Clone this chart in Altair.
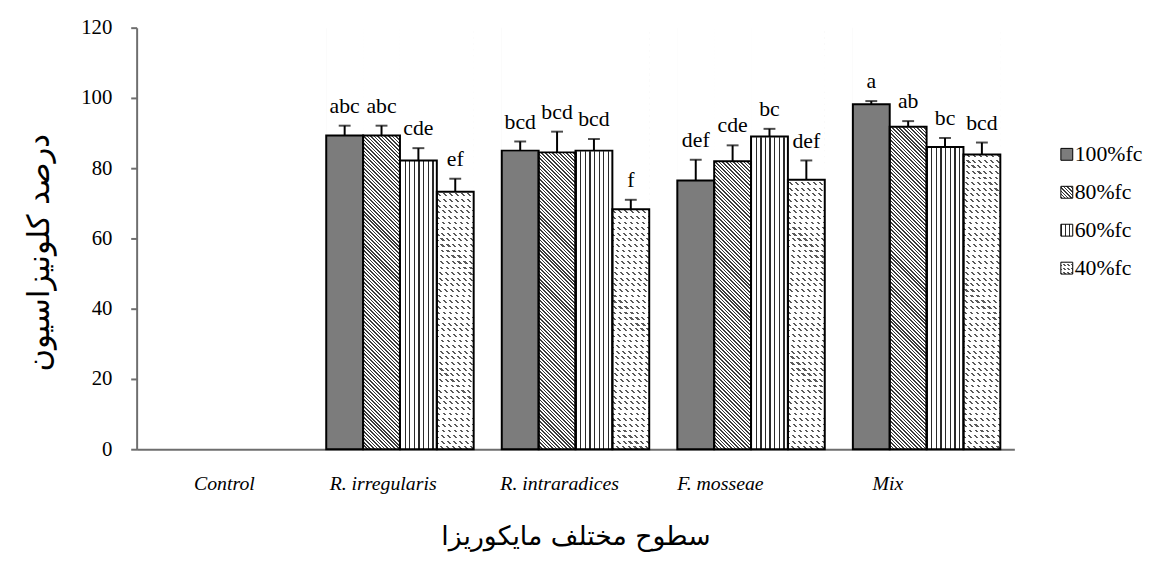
import altair as alt
import pandas as pd

categories = ["Control", "R. irregularis", "R. intraradices", "F. mosseae", "Mix"]
series = ["100%fc", "80%fc", "60%fc", "40%fc"]

v100 = [0, 89.3, 85.0, 76.5, 98.2]
v80 = [0, 89.3, 84.5, 82.0, 91.8]
v60 = [0, 82.2, 85.0, 89.0, 86.0]
v40 = [0, 73.3, 68.3, 76.7, 83.9]

e100 = [0, 2.8, 2.6, 5.9, 0.9]
e80 = [0, 2.8, 5.9, 4.5, 1.6]
e60 = [0, 3.5, 3.3, 2.2, 2.6]
e40 = [0, 3.7, 2.7, 5.5, 3.4]

l100 = ["", "abc", "bcd", "def", "a"]
l80 = ["", "abc", "bcd", "cde", "ab"]
l60 = ["", "cde", "bcd", "bc", "bc"]
l40 = ["", "ef", "f", "def", "bcd"]

y_ticks = [0, 20, 40, 60, 80, 100, 120]
x_title = "سطوح مختلف مایکوریزا"
y_title = "درصد کلونیزاسیون"

rows = []
for s, vals, errs, labs in zip(series, [v100, v80, v60, v40], [e100, e80, e60, e40], [l100, l80, l60, l40]):
    for c, v, e, l in zip(categories, vals, errs, labs):
        rows.append({"cat": c, "series": s, "value": v, "err": e, "letter": l})
df = pd.DataFrame(rows)

W, H = 887, 426
YMAX = 120
P_IN, P_OUT = 0.16, 0.08
step = W / (len(categories) - P_IN + 2 * P_OUT)
BW = step * (1 - P_IN) / len(series)

SERIF = "Times New Roman, Liberation Serif, serif"
ARAB = "DejaVu Sans"
AXC = "#6e6e6e"


def stripes(n, frac, dark, light):
    st = []
    for i in range(n):
        o0 = i / n
        o1 = (i + frac) / n
        o2 = (i + 1) / n
        st += [
            alt.GradientStop(offset=o0, color=dark),
            alt.GradientStop(offset=o1, color=dark),
            alt.GradientStop(offset=o1, color=light),
            alt.GradientStop(offset=o2, color=light),
        ]
    return st


def diag(w, h, period, frac, dark, light):
    a = (w + h) * w / (w * w + h * h)
    n = max(1, int(round((w + h) / period)))
    return alt.LinearGradient(gradient="linear", x1=0, y1=1, x2=a, y2=1 - a * h / w,
                              stops=stripes(n, frac, dark, light))


def vert(w, period, frac, dark, light):
    n = max(1, int(round(w / period)))
    return alt.LinearGradient(gradient="linear", x1=0, y1=0, x2=1, y2=0,
                              stops=stripes(n, frac, dark, light))


def rowsgrad(h, period, frac, c1, c2):
    n = max(1, int(round(h / period)))
    return alt.LinearGradient(gradient="linear", x1=0, y1=0, x2=0, y2=1,
                              stops=stripes(n, frac, c1, c2))


def fills(w, h):
    return {
        "100%fc": ["#7c7c7c"],
        "80%fc": [diag(w, h, 3.6, 0.45, "#3c3c3c", "#ffffff")],
        "60%fc": [vert(w, 4.6, 0.28, "#2a2a2a", "#ffffff")],
        "40%fc": [diag(w, h, 6.0, 0.35, "#5a5a5a", "#ffffff"),
                  rowsgrad(h, 5.7, 0.5, "rgba(255,255,255,1)", "rgba(255,255,255,0)")],
    }


bar_fills = fills(BW, H)

x_enc = alt.X(
    "cat:N",
    sort=categories,
    scale=alt.Scale(domain=categories, paddingInner=P_IN, paddingOuter=P_OUT),
    axis=alt.Axis(
        title=x_title, labelAngle=0, ticks=False,
        labelFont=SERIF, labelFontStyle="italic", labelFontSize=20, labelColor="black",
        labelPadding=25,
        labelOffset={
            "condition": [
                {"test": "datum.value == 'R. irregularis'", "value": -17},
                {"test": "datum.value == 'R. intraradices'", "value": -16},
                {"test": "datum.value == 'F. mosseae'", "value": -31},
                {"test": "datum.value == 'Mix'", "value": -39},
            ],
            "value": 0,
        },
        domainColor=AXC, domainWidth=2,
        titleFont=ARAB, titleFontSize=27, titleFontWeight="normal", titleColor="black",
        titlePadding=30,
    ),
)
xo_enc = alt.XOffset("series:N", scale=alt.Scale(domain=series))
y_axis = alt.Axis(
    title=y_title, values=y_ticks, grid=False,
    labelFont=SERIF, labelFontSize=21, labelColor="black", labelPadding=19,
    tickSize=6, tickColor=AXC, tickWidth=2, domainColor=AXC, domainWidth=2,
    titleFont=ARAB, titleFontSize=31, titleFontWeight="normal", titleColor="black",
    titlePadding=26, titleY=227,
)
y_scale = alt.Scale(domain=[0, YMAX])

base = alt.Chart(df).transform_filter("datum.value > 0").transform_calculate(
    lo="0", hi=str(YMAX), upper="datum.value + datum.err"
)

layers = []
for s in series:
    for f in bar_fills[s]:
        layers.append(
            base.transform_filter(alt.datum.series == s)
            .mark_bar(fill=f, strokeWidth=0)
            .encode(x=x_enc, xOffset=xo_enc,
                    y=alt.Y("lo:Q", scale=y_scale, axis=y_axis), y2="hi:Q")
        )

cover = base.mark_bar(fill="white", stroke="white", strokeWidth=1.2).encode(
    x=x_enc, xOffset=xo_enc, y=alt.Y("value:Q", scale=y_scale, axis=y_axis), y2="hi:Q"
)
outline = base.mark_bar(fill="transparent", stroke="black", strokeWidth=2).encode(
    x=x_enc, xOffset=xo_enc, y=alt.Y("value:Q", scale=y_scale, axis=y_axis)
)
err_rule = base.mark_rule(color="black", strokeWidth=2).encode(
    x=x_enc, xOffset=xo_enc, y=alt.Y("value:Q", scale=y_scale, axis=y_axis), y2="upper:Q"
)
err_cap = base.mark_tick(color="black", thickness=2, size=12, orient="horizontal").encode(
    x=x_enc, xOffset=xo_enc, y=alt.Y("upper:Q", scale=y_scale, axis=y_axis)
)
letters = base.mark_text(baseline="bottom", dy=-8, font=SERIF, fontSize=22, color="black").encode(
    x=x_enc, xOffset=xo_enc, y=alt.Y("upper:Q", scale=y_scale, axis=y_axis), text="letter:N"
)

main = alt.layer(*layers, cover, outline, err_rule, err_cap, letters).properties(width=W, height=H)

# legend panel
leg_df = pd.DataFrame({"series": series})
leg_y = alt.Y("series:N", sort=series,
              scale=alt.Scale(type="point", domain=series, range=[128, 243], padding=0),
              axis=None)
SQ = 12
leg_fills = fills(SQ, SQ)
leg_fills["40%fc"] = [diag(SQ, SQ, 4.0, 0.35, "#5a5a5a", "#ffffff"),
                      rowsgrad(SQ, 4.0, 0.45, "rgba(255,255,255,1)", "rgba(255,255,255,0)")]
leg_base = alt.Chart(leg_df)
leg_layers = []
for s in series:
    fl = leg_fills[s]
    for i, f in enumerate(fl):
        last = i == len(fl) - 1
        leg_layers.append(
            leg_base.transform_filter(alt.datum.series == s)
            .mark_square(size=SQ * SQ, fill=f, opacity=1, filled=True,
                         stroke="black" if last else "transparent", strokeWidth=1)
            .encode(x=alt.value(6), y=leg_y)
        )
leg_text = leg_base.mark_text(align="left", baseline="middle", dx=8, font=SERIF,
                              fontSize=22, color="black").encode(
    x=alt.value(6), y=leg_y, text="series:N"
)
legend = alt.layer(*leg_layers, leg_text).properties(width=80, height=H)

chart = alt.hconcat(main, legend, spacing=45).properties(
    padding={"left": 15, "top": 6, "right": 0, "bottom": 0}
).configure_view(stroke=None)

chart.save("out.html", embed_options={"renderer": "svg", "actions": False})
